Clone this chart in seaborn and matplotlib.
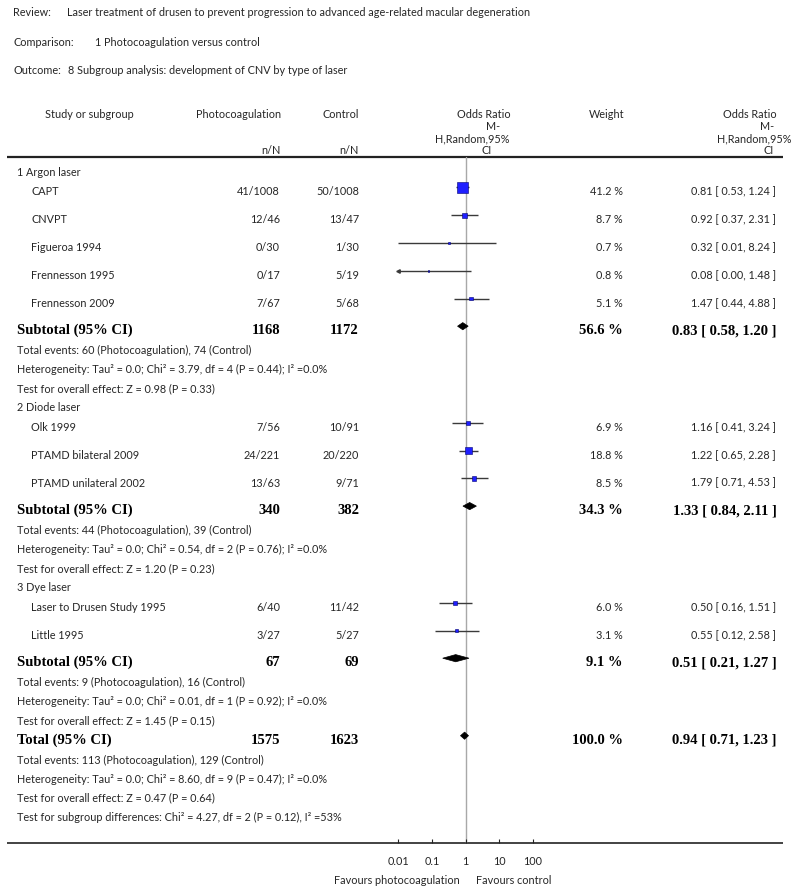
import numpy as np
import pandas as pd
import matplotlib
matplotlib.use("Agg")
import matplotlib.pyplot as plt
import seaborn as sns
from matplotlib.patches import Polygon
from matplotlib.ticker import NullLocator

# ---------------- data ----------------
review_text = "Laser treatment of drusen to prevent progression to advanced age-related macular degeneration"
comparison_text = "1 Photocoagulation versus control"
outcome_text = "8 Subgroup analysis: development of CNV by type of laser"

group_names = ["1 Argon laser", "2 Diode laser", "3 Dye laser"]
study_names = ["CAPT", "CNVPT", "Figueroa 1994", "Frennesson 1995", "Frennesson 2009",
               "Olk 1999", "PTAMD bilateral 2009", "PTAMD unilateral 2002",
               "Laser to Drusen Study 1995", "Little 1995"]
study_group = [0, 0, 0, 0, 0, 1, 1, 1, 2, 2]
photo_events = [41, 12, 0, 0, 7, 7, 24, 13, 6, 3]
photo_total = [1008, 46, 30, 17, 67, 56, 221, 63, 40, 27]
ctrl_events = [50, 13, 1, 5, 5, 10, 20, 9, 11, 5]
ctrl_total = [1008, 47, 30, 19, 68, 91, 220, 71, 42, 27]
weights = [41.2, 8.7, 0.7, 0.8, 5.1, 6.9, 18.8, 8.5, 6.0, 3.1]
or_est = [0.81, 0.92, 0.32, 0.08, 1.47, 1.16, 1.22, 1.79, 0.50, 0.55]
or_lo = [0.53, 0.37, 0.01, 0.00, 0.44, 0.41, 0.65, 0.71, 0.16, 0.12]
or_hi = [1.24, 2.31, 8.24, 1.48, 4.88, 3.24, 2.28, 4.53, 1.51, 2.58]

sub_photo_total = [1168, 340, 67]
sub_ctrl_total = [1172, 382, 69]
sub_weight = [56.6, 34.3, 9.1]
sub_est = [0.83, 1.33, 0.51]
sub_lo = [0.58, 0.84, 0.21]
sub_hi = [1.20, 2.11, 1.27]
sub_photo_events = [60, 44, 9]
sub_ctrl_events = [74, 39, 16]
sub_chi2 = [3.79, 0.54, 0.01]
sub_df = [4, 2, 1]
sub_het_p = [0.44, 0.76, 0.92]
sub_i2 = [0.0, 0.0, 0.0]
sub_z = [0.98, 1.20, 1.45]
sub_z_p = [0.33, 0.23, 0.15]

tot_photo_total, tot_ctrl_total = 1575, 1623
tot_weight = 100.0
tot_est, tot_lo, tot_hi = 0.94, 0.71, 1.23
tot_photo_events, tot_ctrl_events = 113, 129
tot_chi2, tot_df, tot_het_p, tot_i2 = 8.60, 9, 0.47, 0.0
tot_z, tot_z_p = 0.47, 0.64
subgrp_chi2, subgrp_df, subgrp_p, subgrp_i2 = 4.27, 2, 0.12, 53

tick_values = [0.01, 0.1, 1, 10, 100]
tick_labels = ["0.01", "0.1", "1", "10", "100"]

# ---------------- figure ----------------
sns.set_theme(style="white")
plt.rcParams['font.family'] = ['Lato', 'DejaVu Sans']

W, H = 800, 893
fig = plt.figure(figsize=(W / 100, H / 100), dpi=100)
tax = fig.add_axes([0, 0, 1, 1])
tax.set_xlim(0, W)
tax.set_ylim(H, 0)
tax.axis('off')

AX_L, AX_R = 398.3, 532.7
AX_T, AX_B = 157, 843.3
fax = fig.add_axes([AX_L / W, 1 - AX_B / H, (AX_R - AX_L) / W, (AX_B - AX_T) / H])
fax.set_xscale('log')
fax.set_xlim(tick_values[0], tick_values[-1])
fax.set_ylim(AX_B, AX_T)
fax.patch.set_alpha(0)
for sp in fax.spines.values():
    sp.set_visible(False)

TXT = '#262626'
SMALL = 7.8
BOLD = 10.5


def txt(x, y, s, ha='left', size=SMALL, bold=False, color=TXT):
    if bold:
        tax.text(x, y, s, ha=ha, va='baseline', fontsize=size, fontweight='bold',
                 family=['Liberation Serif', 'DejaVu Serif'], color='black')
    else:
        tax.text(x, y, s, ha=ha, va='baseline', fontsize=size, color=color)


# header
txt(13, 16.5, "Review:")
txt(67, 16.5, review_text)
txt(13, 45.5, "Comparison:")
txt(95, 45.5, comparison_text)
txt(13, 74.5, "Outcome:")
txt(68, 74.5, outcome_text)

txt(89, 117.5, "Study or subgroup", ha='center')
txt(281, 117.5, "Photocoagulation", ha='right')
txt(359, 117.5, "Control", ha='right')
txt(281, 154, "n/N", ha='right')
txt(359, 154, "n/N", ha='right')
for yy, s, cx in [(117.5, "Odds Ratio", 484), (130, "M-", 493.5),
                  (142.5, "H,Random,95%", 472), (154, "CI", 486.5)]:
    txt(cx, yy, s, ha='center')
txt(607, 117.5, "Weight", ha='center')
for yy, s, cx in [(117.5, "Odds Ratio", 750), (130, "M-", 767.5),
                  (142.5, "H,Random,95%", 754.5), (154, "CI", 768.5)]:
    txt(cx, yy, s, ha='center')

tax.plot([7, 783], [156.7, 156.7], color='#222222', lw=1.6, solid_capstyle='butt')
tax.plot([7, 783], [AX_B, AX_B], color='#222222', lw=1.2, solid_capstyle='butt')

# ---------------- layout ----------------
MARK_OFF = 8.0
study_rows = {}
sub_rows = {}
y = 175.7
for g in range(len(group_names)):
    txt(17, y, group_names[g])
    y += 19.7
    idxs = [i for i, gg in enumerate(study_group) if gg == g]
    for k, i in enumerate(idxs):
        study_rows[i] = y
        if k < len(idxs) - 1:
            y += 27.8
    y += 27.6
    sub_rows[g] = y
    y += 20
    txt(17, y, f"Total events: {sub_photo_events[g]} (Photocoagulation), {sub_ctrl_events[g]} (Control)")
    y += 19
    txt(17, y, f"Heterogeneity: Tau² = 0.0; Chi² = {sub_chi2[g]:.2f}, df = {sub_df[g]} "
               f"(P = {sub_het_p[g]:.2f}); I² ={sub_i2[g]:.1f}%")
    y += 19
    txt(17, y, f"Test for overall effect: Z = {sub_z[g]:.2f} (P = {sub_z_p[g]:.2f})")
    y += 19
y += 0.5
total_row = y
y += 20
txt(17, y, f"Total events: {tot_photo_events} (Photocoagulation), {tot_ctrl_events} (Control)")
y += 19
txt(17, y, f"Heterogeneity: Tau² = 0.0; Chi² = {tot_chi2:.2f}, df = {tot_df} "
           f"(P = {tot_het_p:.2f}); I² ={tot_i2:.1f}%")
y += 19
txt(17, y, f"Test for overall effect: Z = {tot_z:.2f} (P = {tot_z_p:.2f})")
y += 19
txt(17, y, f"Test for subgroup differences: Chi² = {subgrp_chi2:.2f}, df = {subgrp_df} "
           f"(P = {subgrp_p:.2f}), I² ={subgrp_i2}%")

# study text
for i, name in enumerate(study_names):
    yb = study_rows[i]
    txt(31, yb, name)
    txt(280, yb, f"{photo_events[i]}/{photo_total[i]}", ha='right')
    txt(359, yb, f"{ctrl_events[i]}/{ctrl_total[i]}", ha='right')
    txt(623, yb, f"{weights[i]:.1f} %", ha='right')
    txt(776, yb, f"{or_est[i]:.2f} [ {or_lo[i]:.2f}, {or_hi[i]:.2f} ]", ha='right')

for g in range(len(group_names)):
    yb = sub_rows[g]
    txt(17, yb, "Subtotal (95% CI)", bold=True, size=BOLD)
    txt(280, yb, f"{sub_photo_total[g]}", ha='right', bold=True, size=BOLD)
    txt(359, yb, f"{sub_ctrl_total[g]}", ha='right', bold=True, size=BOLD)
    txt(623, yb, f"{sub_weight[g]:.1f} %", ha='right', bold=True, size=BOLD)
    txt(777, yb, f"{sub_est[g]:.2f} [ {sub_lo[g]:.2f}, {sub_hi[g]:.2f} ]", ha='right', bold=True, size=BOLD)

txt(17, total_row, "Total (95% CI)", bold=True, size=BOLD)
txt(280, total_row, f"{tot_photo_total}", ha='right', bold=True, size=BOLD)
txt(359, total_row, f"{tot_ctrl_total}", ha='right', bold=True, size=BOLD)
txt(623, total_row, f"{tot_weight:.1f} %", ha='right', bold=True, size=BOLD)
txt(777, total_row, f"{tot_est:.2f} [ {tot_lo:.2f}, {tot_hi:.2f} ]", ha='right', bold=True, size=BOLD)

# ---------------- forest marks ----------------
xmin = tick_values[0]
fax.axvline(1, color='#a8a8a8', lw=1.0, zorder=0)

df = pd.DataFrame({
    "est": or_est, "lo": or_lo, "hi": or_hi, "w": weights,
    "y": [study_rows[i] - MARK_OFF for i in range(len(study_names))],
})
lo_clip = np.maximum(df["lo"].values, xmin)
fax.hlines(df["y"], lo_clip, df["hi"], color='#3a3a3a', lw=1.0, zorder=2)
for _, r in df[df["lo"] < xmin].iterrows():
    fax.plot([xmin], [r["y"]], marker='<', ms=2.5, color='#3a3a3a', clip_on=False, zorder=2)

side_px = 10.5 * np.sqrt(df["w"].values / max(weights))
areas = (side_px * 0.72) ** 2
sns.scatterplot(data=df, x="est", y="y", marker='s', s=areas, color='#1f1fff',
                edgecolor='#000070', linewidth=0.4, ax=fax, legend=False, zorder=3)

DH = 3.6
for e, lo, hi, yb in list(zip(sub_est, sub_lo, sub_hi, [sub_rows[g] for g in range(3)])) + \
        [(tot_est, tot_lo, tot_hi, total_row)]:
    ym = yb - MARK_OFF
    fax.add_patch(Polygon([(lo, ym), (e, ym - DH), (hi, ym), (e, ym + DH)], closed=True,
                          facecolor='black', edgecolor='black', lw=0.5, zorder=3))

fax.set_xlabel("")
fax.set_ylabel("")
fax.set_yticks([])
fax.set_xticks(tick_values)
fax.set_xticklabels(tick_labels)
fax.xaxis.set_minor_locator(NullLocator())
fax.tick_params(axis='x', bottom=True, direction='in', length=3, width=0.8, color='#222222',
                pad=9, labelsize=SMALL, labelcolor=TXT)

txt(397, 884, "Favours photocoagulation", ha='center')
txt(514, 884, "Favours control", ha='center')

fig.savefig("out.png", dpi=100)
